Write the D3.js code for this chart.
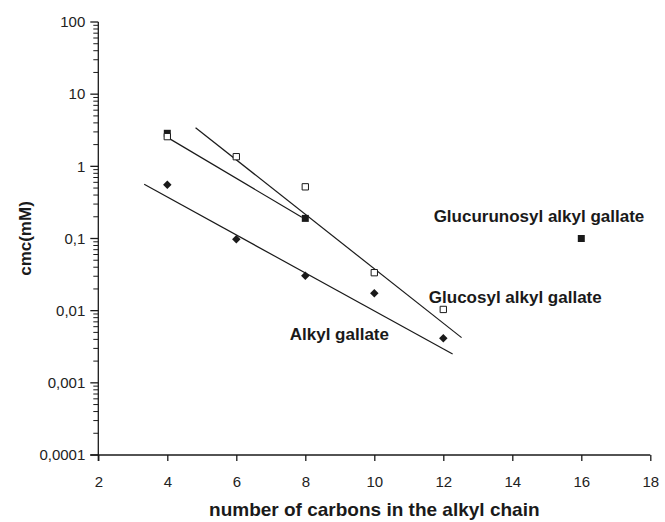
<!DOCTYPE html>
<html><head><meta charset="utf-8">
<script src="https://cdn.jsdelivr.net/npm/d3@7"></script>
<style>
body{margin:0;background:#fff;}
svg{display:block;font-family:"Liberation Sans",Arial,sans-serif;}
</style></head>
<body><svg id="c" width="665" height="522"></svg>
<script>
// ---- data ----
const xTicks = [2,4,6,8,10,12,14,16,18];
const yTicks = [100,10,1,0.1,0.01,0.001,0.0001];
const yTickLabels = ["100","10","1","0,1","0,01","0,001","0,0001"];

const alkylCarbons = [4,6,8,10,12];
const alkylCmc = [0.557,0.098,0.0305,0.0174,0.00414];

const glucosylCarbons = [4,6,8,10,12];
const glucosylCmc = [2.58,1.36,0.52,0.0336,0.0104];

const glucuronosylCarbons = [4,8,16];
const glucuronosylCmc = [2.87,0.19,0.1];

// trend lines (endpoints)
const alkylTrendX = [3.33,12.27], alkylTrendY = [0.564,0.00251];
const glucosylTrendX = [4.82,12.53], glucosylTrendY = [3.43,0.00423];
const glucuronosylTrendX = [4.0,7.9], glucuronosylTrendY = [2.52,0.197];

const seriesLabels = [
  {text:"Glucurunosyl alkyl gallate", x:11.72, y:0.17},
  {text:"Glucosyl alkyl gallate", x:11.58, y:0.0127},
  {text:"Alkyl gallate", x:7.55, y:0.0039}
];

// ---- chart ----
const svg = d3.select("#c");
const x = d3.scaleLinear().domain([2,18]).range([98.3,650.3]);
const y = d3.scaleLog().domain([0.0001,100]).range([455,22]);
const ink = "#1a1a1a";

// x axis
const xAxis = svg.append("g").attr("transform",`translate(0,${y(0.0001)})`)
  .call(d3.axisBottom(x).tickValues(xTicks).tickSize(6).tickSizeOuter(0).tickFormat(d3.format("d")));
xAxis.select(".domain").attr("d",`M${x(2)-8},0H${x(18)}`).attr("stroke",ink).attr("stroke-width",1.3);
xAxis.selectAll(".tick line").attr("stroke",ink).attr("stroke-width",1.3);
xAxis.selectAll(".tick text").attr("font-size",15).attr("fill","#222").attr("dy",0).attr("y",32)
  .attr("font-family","Liberation Sans, Arial, sans-serif");

// y axis with minor ticks
const minor = [];
for (let e=-4;e<2;e++) for (let m=2;m<=9;m++) minor.push(m*Math.pow(10,e));
const yg = svg.append("g").attr("transform",`translate(${x(2)},0)`);
yg.append("line").attr("x1",0).attr("x2",0).attr("y1",y(100)).attr("y2",y(0.0001)+6)
  .attr("stroke",ink).attr("stroke-width",1.3);
yg.selectAll(".mn").data(minor).join("line").attr("class","mn")
  .attr("x1",-5).attr("x2",0).attr("y1",d=>y(d)).attr("y2",d=>y(d))
  .attr("stroke",ink).attr("stroke-width",1);
yg.selectAll(".mj").data(yTicks).join("line").attr("class","mj")
  .attr("x1",-8).attr("x2",0).attr("y1",d=>y(d)).attr("y2",d=>y(d))
  .attr("stroke",ink).attr("stroke-width",1.3);
yg.selectAll(".yl").data(yTicks).join("text").attr("class","yl")
  .attr("x",-13).attr("y",d=>y(d)).attr("dy","0.35em").attr("text-anchor","end")
  .attr("font-size",15).attr("fill","#222").text((d,i)=>yTickLabels[i]);

// titles
svg.append("text").attr("x",(x(2)+x(18))/2).attr("y",516).attr("text-anchor","middle")
  .attr("font-size",19).attr("font-weight","bold").attr("fill","#1a1a1a")
  .text("number of carbons in the alkyl chain");
svg.append("text").attr("transform",`translate(31,${(y(100)+y(0.0001))/2}) rotate(-90)`)
  .attr("text-anchor","middle").attr("font-size",17).attr("font-weight","bold").attr("fill","#1a1a1a")
  .text("cmc(mM)");

// trend lines
const line = d3.line().x(d=>x(d[0])).y(d=>y(d[1]));
[[alkylTrendX,alkylTrendY],[glucosylTrendX,glucosylTrendY],[glucuronosylTrendX,glucuronosylTrendY]]
 .forEach(([xs,ys])=>{
   svg.append("path").attr("d",line(d3.zip(xs,ys))).attr("fill","none")
     .attr("stroke",ink).attr("stroke-width",1.2);
 });

// markers
svg.selectAll(".gu").data(d3.zip(glucuronosylCarbons,glucuronosylCmc)).join("path").attr("class","gu")
  .attr("transform",d=>`translate(${x(d[0])},${y(d[1])})`)
  .attr("d",d3.symbol().type(d3.symbolSquare).size(49)()).attr("fill",ink);
svg.selectAll(".gl").data(d3.zip(glucosylCarbons,glucosylCmc)).join("path").attr("class","gl")
  .attr("transform",d=>`translate(${x(d[0])},${y(d[1])})`)
  .attr("d",d3.symbol().type(d3.symbolSquare).size(40)())
  .attr("fill","#fff").attr("stroke",ink).attr("stroke-width",1);
svg.selectAll(".al").data(d3.zip(alkylCarbons,alkylCmc)).join("path").attr("class","al")
  .attr("transform",d=>`translate(${x(d[0])},${y(d[1])}) rotate(45)`)
  .attr("d",d3.symbol().type(d3.symbolSquare).size(36)()).attr("fill",ink);

// series labels
svg.selectAll(".sl").data(seriesLabels).join("text").attr("class","sl")
  .attr("x",d=>x(d.x)).attr("y",d=>y(d.y)).attr("font-size",17).attr("font-weight","bold")
  .attr("fill","#1a1a1a").text(d=>d.text);
</script></body></html>
